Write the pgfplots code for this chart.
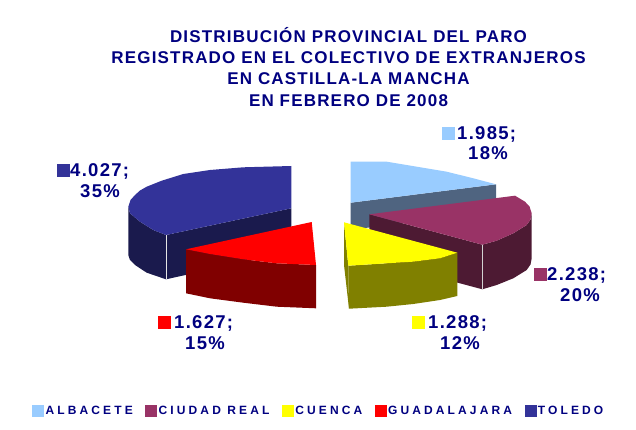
\documentclass[border=0pt]{standalone}
\usepackage{fontspec}
\setmainfont{Liberation Sans}
\newfontface\legfont[LetterSpace=26]{Liberation Sans Bold}
\newfontface\lblfont[LetterSpace=7]{Liberation Sans Bold}
\newfontface\ttlfont[LetterSpace=7]{Liberation Sans Bold}
\usepackage{pgfplots}
\pgfplotsset{compat=1.18}
\definecolor{navy}{HTML}{000080}
\definecolor{alb}{HTML}{99CCFF}
\definecolor{albd}{HTML}{4F6480}
\definecolor{ciu}{HTML}{993366}
\definecolor{ciud}{HTML}{4D1A33}
\definecolor{cue}{HTML}{FFFF00}
\definecolor{cued}{HTML}{808000}
\definecolor{gua}{HTML}{FF0000}
\definecolor{guad}{HTML}{800000}
\definecolor{tol}{HTML}{333399}
\definecolor{told}{HTML}{1A1A4D}
\begin{document}
\begin{tikzpicture}
\begin{axis}[
  scale only axis, width=636pt, height=430pt,
  xmin=0, xmax=636, ymin=0, ymax=430, y dir=reverse,
  hide axis, clip=false,
  legend columns=5,
  legend style={at={(axis cs:32,411)}, anchor=west, draw=none, fill=none,
    font=\legfont\fontsize{12}{14}\selectfont, text=navy,
    /tikz/every even column/.style={column sep=10.5pt}, inner sep=0pt},
  legend cell align=left,
  legend image code/.code={\fill[#1] (0pt,-5.5pt) rectangle (11pt,5.5pt);},
]
\addlegendimage{alb}\addlegendentry{ALBACETE}
\addlegendimage{ciu}\addlegendentry{CIUDAD REAL}
\addlegendimage{cue}\addlegendentry{CUENCA}
\addlegendimage{gua}\addlegendentry{GUADALAJARA}
\addlegendimage{tol}\addlegendentry{TOLEDO}

% keep the page as large as the axis
\path (axis cs:0,0) rectangle (axis cs:636,430);

% toledo
\addplot[fill=told, draw=none] coordinates {(128.3,206.7) (130,213.3) (140,221.7) (153.3,230) (166,235) (166,279.3) (146.7,272.7) (135,265) (130,260) (128.3,255)} --cycle;
\addplot[fill=told, draw=none] coordinates {(166,235) (291.3,208.3) (291.3,251.7) (166,279.3)} --cycle;
\addplot[draw=white!80!gray, line width=0.8pt] coordinates {(166,235) (166,279.3)};
\addplot[fill=tol, draw=none] coordinates {(166,235) (153.3,230) (140,221.7) (130,213.3) (128.3,206.7) (130.5,200) (135,195) (140,190.5) (146.7,186.7) (161.7,180.7) (183.3,174) (210,170) (243.3,167.3) (291.3,166) (291.3,208.3)} --cycle;
% guadalajara
\addplot[fill=guad, draw=none] coordinates {(186,249.3) (210,254) (243.3,259.3) (276.7,263.3) (316,265) (316,308.3) (276.7,306.7) (243.3,302.7) (210,298.3) (186,293.3)} --cycle;
\addplot[fill=gua, draw=none] coordinates {(186,249.3) (311.7,222) (316,265) (276.7,263.3) (243.3,259.3) (210,254)} --cycle;
% albacete
\addplot[fill=albd, draw=none] coordinates {(350.7,202.7) (496,184.3) (496,210) (350.7,230)} --cycle;
\addplot[fill=alb, draw=none] coordinates {(350.7,161.7) (386.7,161.7) (416.7,166.7) (446.7,171.7) (473.3,178.3) (496,184.3) (350.7,202.7)} --cycle;
% ciudad real
\addplot[fill=ciud, draw=none] coordinates {(369.3,214.3) (482.3,244.7) (482.3,289.3) (369.3,259)} --cycle;
\addplot[fill=ciud, draw=none] coordinates {(482.3,244.7) (496.7,240.7) (513.3,233.3) (526.7,225) (530.5,219.5) (531.7,213.3) (531.7,258.3) (530.5,264.5) (526.7,270) (513.3,278.3) (496.7,285) (482.3,289.3)} --cycle;
\addplot[draw=white!65!gray, line width=0.6pt] coordinates {(482.3,244.7) (482.3,289.3)};
\addplot[fill=ciu, draw=none] coordinates {(369.3,214.3) (515,195.7) (525,201.7) (529.5,206.5) (531.7,213.3) (530.5,219.5) (526.7,225) (513.3,233.3) (496.7,240.7) (482.3,244.7)} --cycle;
% cuenca
\addplot[fill=cued, draw=none] coordinates {(344,222.3) (348.3,265.7) (349,308.7) (344,265)} --cycle;
\addplot[fill=cued, draw=none] coordinates {(348.3,265.7) (386.7,263.3) (413.3,261.7) (440,258.3) (457.3,252.7) (457.3,296) (440,300) (413.3,304) (386.7,306.7) (349,308.7)} --cycle;
\addplot[fill=cue, draw=none] coordinates {(344,222.3) (457.3,252.7) (440,258.3) (413.3,261.7) (386.7,263.3) (348.3,265.7)} --cycle;

% label keys
\addplot[only marks, mark=square*, mark size=6pt, alb, mark options={draw=none}] coordinates {(448.5,133.5)};
\addplot[only marks, mark=square*, mark size=6pt, ciu, mark options={draw=none}] coordinates {(540,274.5)};
\addplot[only marks, mark=square*, mark size=6pt, cue, mark options={draw=none}] coordinates {(418,322.5)};
\addplot[only marks, mark=square*, mark size=6pt, gua, mark options={draw=none}] coordinates {(164,322.5)};
\addplot[only marks, mark=square*, mark size=6pt, tol, mark options={draw=none}] coordinates {(63,170.5)};

\tikzset{lbl/.style={font=\lblfont\fontsize{18.5}{20}\selectfont, text=navy, inner sep=0pt},
  ttl/.style={font=\ttlfont\fontsize{17}{20}\selectfont, text=navy, inner sep=0pt, anchor=base}}
\node[ttl] at (axis cs:348.5,42.5) {DISTRIBUCIÓN PROVINCIAL DEL PARO};
\node[ttl] at (axis cs:348.5,64) {REGISTRADO EN EL COLECTIVO DE EXTRANJEROS};
\node[ttl] at (axis cs:348.5,85) {EN CASTILLA-LA MANCHA};
\node[ttl] at (axis cs:348.5,107) {EN FEBRERO DE 2008};

\node[lbl, anchor=base west] at (axis cs:457,139.5) {1.985;};
\node[lbl, anchor=base] at (axis cs:488,160) {18\%};
\node[lbl, anchor=base west] at (axis cs:70,176.5) {4.027;};
\node[lbl, anchor=base] at (axis cs:100,197) {35\%};
\node[lbl, anchor=base west] at (axis cs:547,280.5) {2.238;};
\node[lbl, anchor=base] at (axis cs:580,301) {20\%};
\node[lbl, anchor=base west] at (axis cs:428,328.5) {1.288;};
\node[lbl, anchor=base] at (axis cs:460,349) {12\%};
\node[lbl, anchor=base west] at (axis cs:174,328.5) {1.627;};
\node[lbl, anchor=base] at (axis cs:205,349) {15\%};
\end{axis}
\end{tikzpicture}
\end{document}
